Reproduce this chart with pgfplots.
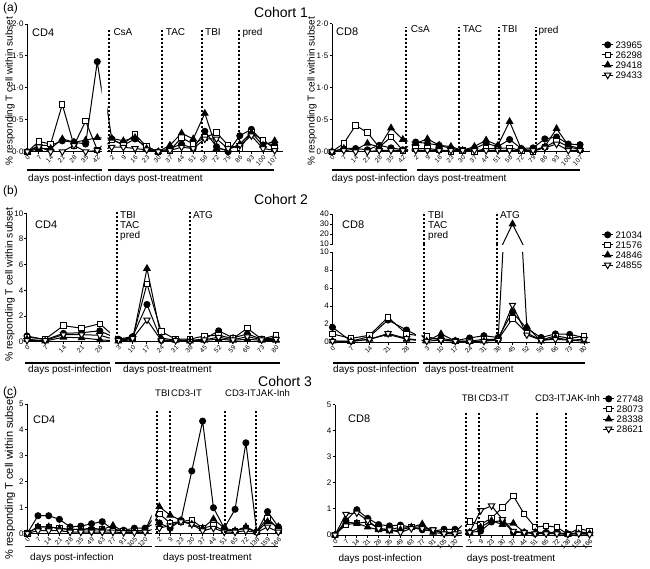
\documentclass[border=0pt]{standalone}
\usepackage{fontspec}
\setmainfont{Liberation Sans}
\usepackage{pgfplots}
\usepackage{pgfplotstable}
\pgfplotsset{compat=1.18}
\newcommand\fs[1]{\fontsize{#1}{#1}\selectfont}

% (a) CD4: x = index; days 0..42 | 2..107
\pgfplotstableread{
x a b c d
0 0.00 0.00 0.00 0.00
1 0.10 0.16 0.05 0.08
2 0.10 0.12 0.05 0.00
3 0.17 0.74 0.20 0.00
4 0.15 0.10 0.15 0.10
5 0.12 0.48 0.18 0.00
6 1.41 0.03 0.22 0.02
7 0.20 0.18 0.21 0.07
8 0.10 0.12 0.17 0.07
9 0.20 0.27 0.22 0.05
10 0.08 0.08 0.05 0.03
11 0.00 0.00 0.00 0.00
12 0.05 0.02 0.10 0.02
13 0.12 0.22 0.29 0.07
14 0.05 0.12 0.20 0.05
15 0.32 0.22 0.60 0.20
16 0.08 0.30 0.05 0.20
17 0.00 0.10 0.03 0.05
18 0.25 0.05 0.12 0.10
19 0.35 0.30 0.30 0.25
20 0.15 0.18 0.10 0.05
21 0.10 0.05 0.17 0.02
}\tA
% (a) CD8
\pgfplotstableread{
x a b c d
0 0.00 0.00 0.00 0.00
1 0.05 0.13 0.05 0.02
2 0.05 0.41 0.03 0.00
3 0.03 0.30 0.13 0.00
4 0.10 0.07 0.07 0.02
5 0.06 0.23 0.37 0.02
6 0.03 0.02 0.19 0.02
7 0.15 0.05 0.13 0.02
8 0.13 0.05 0.20 0.02
9 0.10 0.03 0.10 0.02
10 0.05 0.00 0.08 0.02
11 0.02 0.02 0.02 0.02
12 0.05 0.00 0.08 0.02
13 0.13 0.05 0.18 0.02
14 0.08 0.05 0.10 0.02
15 0.19 0.06 0.47 0.02
16 0.05 0.02 0.04 0.02
17 0.06 0.00 0.02 0.02
18 0.20 0.07 0.08 0.06
19 0.23 0.17 0.36 0.12
20 0.12 0.08 0.10 0.02
21 0.11 0.03 0.05 0.02
}\tB
% (b) CD4: days 0..28 | 3..80
\pgfplotstableread{
x a b c d
0 0.45 0.35 0.20 0.10
1 0.15 0.20 0.05 0.10
2 0.65 1.25 0.35 0.55
3 0.70 1.05 0.30 0.55
4 0.85 1.40 0.15 0.50
5 0.20 0.15 0.05 0.10
6 0.40 0.30 0.15 0.25
7 2.90 4.50 5.70 1.70
8 0.10 0.78 0.30 0.10
9 0.15 0.20 0.10 0.10
10 0.10 0.20 0.05 0.05
11 0.20 0.45 0.10 0.15
12 0.85 0.50 0.20 0.35
13 0.30 0.25 0.10 0.15
14 0.60 1.05 0.20 0.40
15 0.20 0.20 0.10 0.15
16 0.30 0.50 0.10 0.20
}\tC
% (b) CD8
\pgfplotstableread{
x a b c d
0 1.63 0.90 0.10 0.10
1 0.10 0.40 0.05 0.10
2 0.60 0.75 0.30 0.30
3 2.44 2.74 0.85 0.95
4 1.33 0.90 0.30 0.40
5 0.30 0.60 0.10 0.10
6 0.40 0.20 0.90 0.20
7 0.15 0.10 0.10 0.10
8 0.45 0.10 0.05 0.05
9 0.70 0.30 0.10 0.10
10 0.50 0.30 0.40 0.20
11 3.30 2.60 30.0 4.10
12 1.50 1.00 1.70 0.80
13 0.50 0.20 0.10 0.20
14 0.90 0.70 0.50 0.30
15 0.85 0.40 0.20 0.20
16 0.50 0.65 0.10 0.30
}\tD
% (c) CD4: days 0..120 | 2..166
\pgfplotstableread{
x a b c d
0 0.00 0.00 0.00 0.00
1 0.68 0.25 0.25 0.10
2 0.68 0.25 0.25 0.10
3 0.54 0.20 0.18 0.10
4 0.25 0.15 0.15 0.05
5 0.28 0.15 0.15 0.05
6 0.37 0.12 0.20 0.05
7 0.45 0.15 0.15 0.05
8 0.15 0.10 0.30 0.05
9 0.12 0.10 0.08 0.03
10 0.20 0.10 0.08 0.03
11 0.20 0.10 0.10 0.05
12 0.40 0.75 1.03 0.20
13 0.20 0.40 0.70 0.30
14 0.50 0.45 0.50 0.45
15 2.41 0.52 0.35 0.35
16 4.34 0.20 0.20 0.10
17 0.99 0.30 0.55 0.20
18 0.20 0.10 0.20 0.05
19 0.93 0.10 0.10 0.05
20 3.50 0.20 0.25 0.10
21 0.05 0.05 0.05 0.03
22 0.84 0.60 0.45 0.25
23 0.25 0.15 0.25 0.05
}\tE
% (c) CD8
\pgfplotstableread{
x a b c d
0 0.00 0.00 0.00 0.00
1 0.55 0.40 0.50 0.80
2 0.97 0.45 0.45 0.85
3 0.64 0.50 0.30 0.55
4 0.40 0.25 0.20 0.25
5 0.35 0.20 0.15 0.20
6 0.38 0.30 0.20 0.10
7 0.30 0.30 0.30 0.25
8 0.20 0.30 0.42 0.25
9 0.15 0.20 0.10 0.20
10 0.22 0.10 0.05 0.05
11 0.22 0.10 0.05 0.05
12 0.10 0.52 0.10 0.10
13 0.15 0.40 0.30 0.94
14 0.50 0.65 0.55 1.12
15 0.55 1.05 0.40 0.60
16 0.10 1.50 0.45 0.15
17 0.10 0.80 0.10 0.10
18 0.05 0.30 0.10 0.05
19 0.10 0.35 0.10 0.05
20 0.10 0.30 0.05 0.05
21 0.03 0.03 0.03 0.03
22 0.10 0.25 0.05 0.05
23 0.10 0.15 0.05 0.02
}\tF

\tikzset{dl/.style={line width=2pt, dash pattern=on 2.2pt off 1.8pt}}
\pgfplotsset{
  legend image code/.code={\draw[mark repeat=2,mark phase=2,#1] plot coordinates {(0pt,0pt) (5.5pt,0pt) (11pt,0pt)};},
  sA/.style={black, line width=1pt, mark=*, mark size=3pt, mark options={solid, fill=black}},
  sB/.style={black, line width=1pt, mark=square*, mark size=2.7pt, mark options={solid, fill=white}},
  sC/.style={black, line width=1pt, mark=triangle*, mark size=3.6pt, mark options={solid, fill=black}},
  sD/.style={black, line width=1pt, mark=triangle*, mark size=3.6pt, mark options={solid, fill=white, rotate=180}},
  base/.style={scale only axis, anchor=south west, clip mode=individual,
    axis line style={line width=1pt, black}, tick style={line width=1pt, black},
    tick align=outside, major tick length=2.5pt,
    xticklabel style={rotate=45, anchor=north east, font=\fs{6.5}, inner sep=0.5pt},
    yticklabel style={font=\fs{8}, inner sep=1pt},
    legend cell align=left,
    legend style={draw=none, fill=none, font=\fs{9.5}, inner sep=0pt, row sep=3.2pt,
      nodes={inner xsep=2pt, inner ysep=0pt, text height=6.8pt, text depth=0pt}}},
  L/.style={base, axis x line*=bottom, axis y line*=left},
  R/.style={base, axis x line*=bottom, axis y line=none, ytick=\empty},
}

\newcommand\seglines[1]{%
  \addplot[black,line width=1pt,no markers,forget plot] table[x=x,y=a]{#1};
  \addplot[black,line width=1pt,no markers,forget plot] table[x=x,y=b]{#1};
  \addplot[black,line width=1pt,no markers,forget plot] table[x=x,y=c]{#1};
  \addplot[black,line width=1pt,no markers,forget plot] table[x=x,y=d]{#1};
}
\newcommand\segmarks[3]{%
  \addplot[sA,only marks,forget plot,restrict x to domain=#2,restrict y to domain=#3] table[x=x,y=a]{#1};
  \addplot[sB,only marks,forget plot,restrict x to domain=#2,restrict y to domain=#3] table[x=x,y=b]{#1};
  \addplot[sC,only marks,forget plot,restrict x to domain=#2,restrict y to domain=#3] table[x=x,y=c]{#1};
  \addplot[sD,only marks,forget plot,restrict x to domain=#2,restrict y to domain=#3] table[x=x,y=d]{#1};
}

\begin{document}
\begin{tikzpicture}
\path[use as bounding box] (0pt,0pt) rectangle (650pt,-568pt);

% ================= (a) =================
\begin{axis}[L, at={(27.3pt,-151.7pt)}, width=74.3pt, height=127.7pt,
  xmin=0, xmax=6.37, ymin=0, ymax=2,
  xtick={0,...,6}, xticklabels={0,7,14,21,28,35,42},
  ytick={0,0.5,1,1.5,2}, yticklabels={0·0,0·5,1·0,1·5,2·0}]
\seglines\tA
\segmarks\tA{-0.2:6.2}{-1:100}
\end{axis}
\begin{axis}[R, at={(107.3pt,-151.7pt)}, width=176.1pt, height=127.7pt,
  xmin=6.62, xmax=21.75, ymin=0, ymax=2,
  xtick={7,...,21}, xticklabels={2,9,16,23,30,37,44,51,58,72,79,86,93,100,107}]
\seglines\tA
\segmarks\tA{6.8:21.2}{-1:100}
\draw[dl] (axis cs:6.79,0) -- (axis cs:6.79,1.94);
\draw[dl] (axis cs:11.3,0) -- (axis cs:11.3,1.94);
\draw[dl] (axis cs:14.78,0) -- (axis cs:14.78,1.94);
\draw[dl] (axis cs:17.95,0) -- (axis cs:17.95,1.94);
\end{axis}

\begin{axis}[L, at={(332pt,-151.7pt)}, width=76pt, height=128.2pt,
  xmin=0, xmax=6.44, ymin=0, ymax=2,
  xtick={0,...,6}, xticklabels={0,7,14,21,28,35,42},
  ytick={0,0.5,1,1.5,2}, yticklabels={0·0,0·5,1·0,1·5,2·0}]
\seglines\tB
\segmarks\tB{-0.2:6.2}{-1:100}
\draw[dl] (axis cs:6.23,0) -- (axis cs:6.23,1.94);
\end{axis}
\begin{axis}[R, at={(411.7pt,-151.7pt)}, width=178.3pt, height=128.2pt,
  xmin=6.66, xmax=21.85, ymin=0, ymax=2,
  xtick={7,...,21}, xticklabels={2,9,16,23,30,37,44,51,58,72,79,86,93,100,107},
  legend style={at={(1.0645,0.715)}, anchor=west}]
\seglines\tB
\segmarks\tB{6.8:21.2}{-1:100}
\draw[dl] (axis cs:10.71,0) -- (axis cs:10.71,1.94);
\draw[dl] (axis cs:14.11,0) -- (axis cs:14.11,1.94);
\draw[dl] (axis cs:17.24,0) -- (axis cs:17.24,1.94);
\addlegendimage{sA}\addlegendentry{23965}
\addlegendimage{sB}\addlegendentry{26298}
\addlegendimage{sC}\addlegendentry{29418}
\addlegendimage{sD}\addlegendentry{29433}
\end{axis}

% ================= (b) =================
\begin{axis}[L, at={(27pt,-341.7pt)}, width=82.8pt, height=128.4pt,
  xmin=0, xmax=4.55, ymin=0, ymax=10,
  xtick={0,...,4}, xticklabels={0,7,14,21,28},
  ytick={0,2,...,10}, yticklabels={0,2,4,6,8,10}]
\seglines\tC
\segmarks\tC{-0.2:4.2}{-1:100}
\end{axis}
\begin{axis}[R, at={(115pt,-341.7pt)}, width=165pt, height=128.4pt,
  xmin=4.77, xmax=16.28, ymin=0, ymax=10,
  xtick={5,...,16}, xticklabels={3,10,17,24,31,38,45,52,59,66,73,80}]
\seglines\tC
\segmarks\tC{4.8:16.2}{-1:100}
\draw[dl] (axis cs:4.89,0) -- (axis cs:4.89,10.1);
\draw[dl] (axis cs:10,0) -- (axis cs:10,10.1);
\end{axis}

\begin{axis}[L, at={(332.5pt,-342pt)}, width=83.3pt, height=90pt,
  xmin=0, xmax=4.5, ymin=0, ymax=10,
  xtick={0,...,4}, xticklabels={0,7,14,21,28},
  ytick={0,2,...,10}, yticklabels={0,2,4,6,8,10}]
\seglines\tD
\segmarks\tD{-0.2:4.2}{-1:10.5}
\end{axis}
\begin{axis}[base, axis y line*=left, axis x line=none, xtick=\empty,
  at={(332.5pt,-244pt)}, width=83.3pt, height=30pt,
  xmin=0, xmax=4.5, ymin=10, ymax=40,
  ytick={10,20,30,40}, yticklabels={10,20,30,40}]
\end{axis}
\begin{axis}[R, at={(421.7pt,-342pt)}, width=168.3pt, height=90pt,
  xmin=4.65, xmax=16.42, ymin=0, ymax=10,
  xtick={5,...,16}, xticklabels={3,10,17,24,31,38,45,52,59,66,73,80},
  legend style={at={(1.068,1.022)}, anchor=west}]
\seglines\tD
\segmarks\tD{4.8:16.2}{-1:10.5}
\draw[dl] (axis cs:4.81,0) -- (axis cs:4.81,10.9);
\draw[dl] (axis cs:9.94,0) -- (axis cs:9.94,10.9);
\addlegendimage{sA}\addlegendentry{21034}
\addlegendimage{sB}\addlegendentry{21576}
\addlegendimage{sC}\addlegendentry{24846}
\addlegendimage{sD}\addlegendentry{24855}
\end{axis}
\begin{axis}[base, hide axis, at={(421.7pt,-244pt)}, width=168.3pt, height=30pt,
  xmin=4.65, xmax=16.42, ymin=10, ymax=40]
\seglines\tD
\segmarks\tD{4.8:16.2}{10:41}
\draw[dl] (axis cs:4.81,10) -- (axis cs:4.81,42);
\draw[dl] (axis cs:9.94,10) -- (axis cs:9.94,42);
\end{axis}

% ================= (c) =================
\begin{axis}[L, at={(27.3pt,-533.3pt)}, width=124.4pt, height=129.3pt,
  xmin=0, xmax=11.62, ymin=0, ymax=5,
  xtick={0,...,11}, xticklabels={0,7,14,21,28,35,49,63,77,91,105,120},
  ytick={0,...,5}, yticklabels={0,1,2,3,4,5}]
\seglines\tE
\segmarks\tE{-0.2:11.2}{-1:100}
\end{axis}
\begin{axis}[R, at={(155pt,-533.3pt)}, width=126.6pt, height=129.3pt,
  xmin=11.6, xmax=23.3, ymin=0, ymax=5,
  xtick={12,...,23}, xticklabels={2,9,23,30,37,44,51,65,72,138,159,166}]
\seglines\tE
\segmarks\tE{11.8:23.2}{-1:100}
\draw[dl] (axis cs:11.83,0) -- (axis cs:11.83,4.77);
\draw[dl] (axis cs:13,0) -- (axis cs:13,4.77);
\draw[dl] (axis cs:18.1,0) -- (axis cs:18.1,4.77);
\draw[dl] (axis cs:20.95,0) -- (axis cs:20.95,4.77);
\end{axis}

\begin{axis}[L, at={(335pt,-535pt)}, width=126.7pt, height=130.5pt,
  xmin=0, xmax=11.62, ymin=0, ymax=5,
  xtick={0,...,11}, xticklabels={0,7,14,21,28,35,49,63,77,91,105,120},
  ytick={0,...,5}, yticklabels={0,1,2,3,4,5}]
\seglines\tF
\segmarks\tF{-0.2:11.2}{-1:100}
\end{axis}
\begin{axis}[R, at={(465.7pt,-535pt)}, width=126.1pt, height=130.5pt,
  xmin=11.63, xmax=23.2, ymin=0, ymax=5,
  xtick={12,...,23}, xticklabels={2,9,23,30,37,44,51,65,72,138,159,166},
  legend style={at={(1.085,0.927)}, anchor=west}]
\seglines\tF
\segmarks\tF{11.8:23.2}{-1:100}
\draw[dl] (axis cs:11.66,0) -- (axis cs:11.66,4.72);
\draw[dl] (axis cs:12.88,0) -- (axis cs:12.88,4.72);
\draw[dl] (axis cs:18.15,0) -- (axis cs:18.15,4.72);
\draw[dl] (axis cs:20.8,0) -- (axis cs:20.8,4.72);
\addlegendimage{sA}\addlegendentry{27748}
\addlegendimage{sB}\addlegendentry{28073}
\addlegendimage{sC}\addlegendentry{28338}
\addlegendimage{sD}\addlegendentry{28621}
\end{axis}

% ================= texts =================
\begin{scope}[every node/.style={inner sep=0pt}]
\node[anchor=west, font=\fs{12}] at (3pt,-8.5pt) {(a)};
\node[anchor=west, font=\fs{12}] at (3pt,-191pt) {(b)};
\node[anchor=west, font=\fs{12}] at (3pt,-392pt) {(c)};
\node[font=\fs{14}] at (281pt,-12pt) {Cohort 1};
\node[font=\fs{14}] at (281pt,-199pt) {Cohort 2};
\node[font=\fs{14}] at (285pt,-381.5pt) {Cohort 3};
\node[rotate=90, font=\fs{10}] at (10pt,-91pt) {\% responding T cell within subset};
\node[rotate=90, font=\fs{10}] at (312pt,-91pt) {\% responding T cell within subset};
\node[rotate=90, font=\fs{10.4}] at (10pt,-284.5pt) {\% responding T cell within subset};
\node[rotate=90, font=\fs{11}] at (10pt,-478pt) {\% responding T cell within subset};
\node[anchor=west, font=\fs{11}] at (32pt,-33pt) {CD4};
\node[anchor=west, font=\fs{11}] at (336pt,-31.7pt) {CD8};
\node[anchor=west, font=\fs{11}] at (35pt,-225pt) {CD4};
\node[anchor=west, font=\fs{11}] at (342pt,-225pt) {CD8};
\node[anchor=west, font=\fs{11}] at (33pt,-420pt) {CD4};
\node[anchor=west, font=\fs{11}] at (348pt,-418.3pt) {CD8};
\node[anchor=west, font=\fs{10}] at (113.3pt,-31.7pt) {CsA};
\node[anchor=west, font=\fs{10}] at (165.7pt,-31.7pt) {TAC};
\node[anchor=west, font=\fs{10}] at (205pt,-31.7pt) {TBI};
\node[anchor=base west, font=\fs{10}] at (242.3pt,-35.3pt) {pred};
\node[anchor=west, font=\fs{10}] at (410.7pt,-29.3pt) {CsA};
\node[anchor=west, font=\fs{10}] at (462.7pt,-29.3pt) {TAC};
\node[anchor=west, font=\fs{10}] at (501.7pt,-29.3pt) {TBI};
\node[anchor=base west, font=\fs{10}] at (538.3pt,-33pt) {pred};
\node[anchor=base west, font=\fs{10}] at (120pt,-218.5pt) {TBI};
\node[anchor=base west, font=\fs{10}] at (120pt,-228.5pt) {TAC};
\node[anchor=base west, font=\fs{10}] at (120pt,-238.5pt) {pred};
\node[anchor=base west, font=\fs{10}] at (193pt,-218.5pt) {ATG};
\node[anchor=base west, font=\fs{10}] at (428pt,-218.5pt) {TBI};
\node[anchor=base west, font=\fs{10}] at (428pt,-228.5pt) {TAC};
\node[anchor=base west, font=\fs{10}] at (428pt,-238.5pt) {pred};
\node[anchor=base west, font=\fs{10}] at (500pt,-218.5pt) {ATG};
\node[anchor=base west, font=\fs{9.5}] at (155pt,-396pt) {TBI};
\node[anchor=base west, font=\fs{9.5}] at (171pt,-396pt) {CD3-IT};
\node[anchor=base west, font=\fs{9.5}] at (225pt,-396pt) {CD3-IT};
\node[anchor=base west, font=\fs{9.5}] at (256pt,-396pt) {JAK-Inh};
\node[anchor=base west, font=\fs{9.5}] at (461.7pt,-401.5pt) {TBI};
\node[anchor=base west, font=\fs{9.5}] at (478.3pt,-401.5pt) {CD3-IT};
\node[anchor=base west, font=\fs{9.5}] at (535pt,-401.5pt) {CD3-IT};
\node[anchor=base west, font=\fs{9.5}] at (566pt,-401.5pt) {JAK-Inh};
\node[anchor=west, font=\fs{10}] at (28pt,-178.5pt) {days post-infection days post-treatment};
\node[anchor=west, font=\fs{10}] at (331.7pt,-178.5pt) {days post-infection days post-treatment};
\node[anchor=west, font=\fs{10}] at (28pt,-370pt) {days post-infection};
\node[anchor=west, font=\fs{10}] at (123pt,-370pt) {days post-treatment};
\node[anchor=west, font=\fs{10}] at (333pt,-370pt) {days post-infection};
\node[anchor=west, font=\fs{10}] at (425pt,-370pt) {days post-treatment};
\node[anchor=west, font=\fs{10}] at (30pt,-558pt) {days post-infection};
\node[anchor=west, font=\fs{10}] at (163pt,-558pt) {days post-treatment};
\node[anchor=west, font=\fs{10}] at (338.3pt,-559pt) {days post-infection};
\node[anchor=west, font=\fs{10}] at (466.7pt,-559pt) {days post-treatment};
\end{scope}
\begin{scope}[line width=1.3pt]
\draw (27pt,-170pt) -- (102pt,-170pt);
\draw (108pt,-170pt) -- (274pt,-170pt);
\draw (331.7pt,-170pt) -- (406.7pt,-170pt);
\draw (416.7pt,-170pt) -- (580pt,-170pt);
\draw (25pt,-363pt) -- (110pt,-363pt);
\draw (115pt,-363pt) -- (280pt,-363pt);
\draw (333pt,-363pt) -- (419pt,-363pt);
\draw (423pt,-363pt) -- (585pt,-363pt);
\draw (25pt,-546.7pt) -- (151.7pt,-546.7pt);
\draw (155pt,-546.7pt) -- (278.3pt,-546.7pt);
\draw (333.3pt,-546.7pt) -- (463.3pt,-546.7pt);
\draw (465.7pt,-546.7pt) -- (591.7pt,-546.7pt);
\end{scope}
\end{tikzpicture}
\end{document}
